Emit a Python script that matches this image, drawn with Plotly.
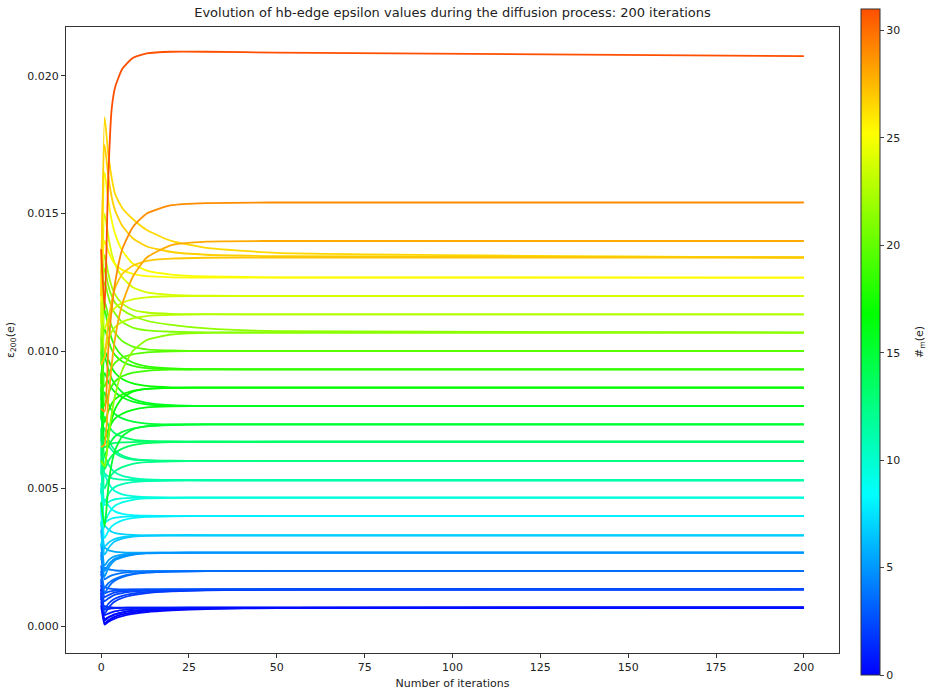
import plotly.graph_objects as go
from plotly.colors import sample_colorscale

# ---------------- data ----------------
ITERATIONS = [0, 1, 2, 3, 4, 6, 9, 13, 20, 30, 50, 200]

# each edge: #m(e) value and epsilon value at the sampled iterations
M_VALUES = [
    0.0, 0.3, 0.6, 1.0, 0.8, 0.2, 0.4,
    2.0, 2.3, 2.6, 2.2, 1.8, 2.5,
    3.5, 3.8, 4.0, 3.6,
    5.0, 5.3, 5.6, 4.8,
    6.5, 7.0, 6.8,
    8.0, 8.3, 7.8,
    9.3, 9.7, 9.5,
    11.0, 10.8, 11.2,
    12.0, 12.3, 12.5,
    13.5, 13.8, 13.3,
    15.0, 14.7, 15.2,
    16.0, 16.3, 15.8,
    17.0, 17.3, 16.8,
    18.5, 18.8, 18.3,
    20.0, 19.7,
    21.0, 21.3, 21.5,
    22.5, 22.8,
    24.0, 23.7,
    25.0, 25.3,
    26.5, 26.8, 27.0,
    28.0,
    29.0,
    31.0,
]

EPSILON = [
    # level 0.00067
    [0.00120, 0.00010, 0.00020, 0.00028, 0.00034, 0.00042, 0.00050, 0.00056, 0.00061, 0.00064, 0.00066, 0.00067],
    [0.00090, 0.00025, 0.00032, 0.00038, 0.00043, 0.00050, 0.00056, 0.00060, 0.00063, 0.00065, 0.00066, 0.00067],
    [0.00150, 0.00040, 0.00045, 0.00050, 0.00054, 0.00058, 0.00062, 0.00064, 0.00066, 0.00067, 0.00067, 0.00067],
    [0.00060, 0.00072, 0.00069, 0.00068, 0.00067, 0.00067, 0.00067, 0.00067, 0.00067, 0.00067, 0.00067, 0.00067],
    [0.00100, 0.00060, 0.00062, 0.00064, 0.00065, 0.00066, 0.00067, 0.00067, 0.00067, 0.00067, 0.00067, 0.00067],
    [0.00075, 0.00005, 0.00015, 0.00022, 0.00028, 0.00036, 0.00044, 0.00051, 0.00057, 0.00062, 0.00065, 0.00067],
    [0.00135, 0.00020, 0.00030, 0.00036, 0.00042, 0.00049, 0.00055, 0.00059, 0.00062, 0.00065, 0.00066, 0.00067],
    # level 0.00133
    [0.00170, 0.00060, 0.00080, 0.00092, 0.00100, 0.00110, 0.00118, 0.00124, 0.00129, 0.00131, 0.00133, 0.00133],
    [0.00130, 0.00090, 0.00100, 0.00108, 0.00114, 0.00120, 0.00125, 0.00129, 0.00131, 0.00132, 0.00133, 0.00133],
    [0.00095, 0.00140, 0.00137, 0.00135, 0.00134, 0.00133, 0.00133, 0.00133, 0.00133, 0.00133, 0.00133, 0.00133],
    [0.00200, 0.00105, 0.00112, 0.00118, 0.00122, 0.00126, 0.00129, 0.00131, 0.00132, 0.00133, 0.00133, 0.00133],
    [0.00110, 0.00045, 0.00065, 0.00080, 0.00090, 0.00102, 0.00112, 0.00120, 0.00126, 0.00130, 0.00132, 0.00133],
    [0.00160, 0.00120, 0.00124, 0.00127, 0.00129, 0.00131, 0.00132, 0.00133, 0.00133, 0.00133, 0.00133, 0.00133],
    # level 0.0020
    [0.00220, 0.00120, 0.00140, 0.00156, 0.00166, 0.00178, 0.00188, 0.00194, 0.00198, 0.00200, 0.00200, 0.00200],
    [0.00260, 0.00170, 0.00178, 0.00184, 0.00188, 0.00193, 0.00197, 0.00199, 0.00200, 0.00200, 0.00200, 0.00200],
    [0.00165, 0.00212, 0.00207, 0.00204, 0.00202, 0.00201, 0.00200, 0.00200, 0.00200, 0.00200, 0.00200, 0.00200],
    [0.00190, 0.00140, 0.00155, 0.00165, 0.00172, 0.00182, 0.00190, 0.00195, 0.00198, 0.00200, 0.00200, 0.00200],
    # level 0.00267
    [0.00300, 0.00180, 0.00210, 0.00228, 0.00240, 0.00250, 0.00259, 0.00264, 0.00266, 0.00267, 0.00267, 0.00267],
    [0.00350, 0.00220, 0.00238, 0.00248, 0.00254, 0.00260, 0.00264, 0.00266, 0.00267, 0.00267, 0.00267, 0.00267],
    [0.00240, 0.00285, 0.00276, 0.00272, 0.00270, 0.00268, 0.00267, 0.00267, 0.00267, 0.00267, 0.00267, 0.00267],
    [0.00270, 0.00200, 0.00222, 0.00236, 0.00245, 0.00254, 0.00261, 0.00265, 0.00266, 0.00267, 0.00267, 0.00267],
    # level 0.0033
    [0.00380, 0.00260, 0.00282, 0.00298, 0.00308, 0.00318, 0.00325, 0.00329, 0.00330, 0.00330, 0.00330, 0.00330],
    [0.00290, 0.00365, 0.00352, 0.00343, 0.00338, 0.00334, 0.00331, 0.00330, 0.00330, 0.00330, 0.00330, 0.00330],
    [0.00420, 0.00290, 0.00302, 0.00311, 0.00317, 0.00323, 0.00327, 0.00329, 0.00330, 0.00330, 0.00330, 0.00330],
    # level 0.0040
    [0.00450, 0.00320, 0.00344, 0.00362, 0.00372, 0.00384, 0.00392, 0.00397, 0.00399, 0.00400, 0.00400, 0.00400],
    [0.00360, 0.00460, 0.00440, 0.00425, 0.00416, 0.00408, 0.00403, 0.00401, 0.00400, 0.00400, 0.00400, 0.00400],
    [0.00500, 0.00375, 0.00385, 0.00391, 0.00394, 0.00397, 0.00399, 0.00400, 0.00400, 0.00400, 0.00400, 0.00400],
    # level 0.00467
    [0.00520, 0.00380, 0.00405, 0.00425, 0.00438, 0.00450, 0.00459, 0.00464, 0.00466, 0.00467, 0.00467, 0.00467],
    [0.00420, 0.00550, 0.00522, 0.00502, 0.00490, 0.00479, 0.00472, 0.00469, 0.00467, 0.00467, 0.00467, 0.00467],
    [0.00580, 0.00440, 0.00450, 0.00457, 0.00461, 0.00464, 0.00466, 0.00467, 0.00467, 0.00467, 0.00467, 0.00467],
    # level 0.0053
    [0.00480, 0.00620, 0.00590, 0.00570, 0.00558, 0.00546, 0.00538, 0.00533, 0.00531, 0.00530, 0.00530, 0.00530],
    [0.00600, 0.00450, 0.00478, 0.00496, 0.00506, 0.00516, 0.00523, 0.00527, 0.00529, 0.00530, 0.00530, 0.00530],
    [0.00650, 0.00555, 0.00545, 0.00538, 0.00535, 0.00532, 0.00531, 0.00530, 0.00530, 0.00530, 0.00530, 0.00530],
    # level 0.0060
    [0.00550, 0.00680, 0.00658, 0.00640, 0.00628, 0.00614, 0.00605, 0.00602, 0.00600, 0.00600, 0.00600, 0.00600],
    [0.00680, 0.00500, 0.00530, 0.00550, 0.00564, 0.00578, 0.00590, 0.00596, 0.00599, 0.00600, 0.00600, 0.00600],
    [0.00620, 0.00720, 0.00680, 0.00655, 0.00638, 0.00620, 0.00608, 0.00603, 0.00601, 0.00600, 0.00600, 0.00600],
    # level 0.0067
    [0.00600, 0.00760, 0.00732, 0.00712, 0.00700, 0.00688, 0.00678, 0.00673, 0.00671, 0.00670, 0.00670, 0.00670],
    [0.00720, 0.00570, 0.00598, 0.00618, 0.00630, 0.00645, 0.00658, 0.00665, 0.00669, 0.00670, 0.00670, 0.00670],
    [0.00780, 0.00650, 0.00658, 0.00663, 0.00666, 0.00668, 0.00669, 0.00670, 0.00670, 0.00670, 0.00670, 0.00670],
    # level 0.0073
    [0.00680, 0.00850, 0.00810, 0.00785, 0.00770, 0.00755, 0.00743, 0.00736, 0.00733, 0.00733, 0.00733, 0.00733],
    [0.00800, 0.00620, 0.00652, 0.00675, 0.00690, 0.00706, 0.00718, 0.00726, 0.00731, 0.00733, 0.00733, 0.00733],
    [0.00450, 0.00360, 0.00500, 0.00590, 0.00640, 0.00690, 0.00715, 0.00727, 0.00732, 0.00733, 0.00733, 0.00733],
    # level 0.0080
    [0.00750, 0.00920, 0.00890, 0.00865, 0.00850, 0.00832, 0.00816, 0.00806, 0.00801, 0.00800, 0.00800, 0.00800],
    [0.00870, 0.00680, 0.00712, 0.00738, 0.00755, 0.00772, 0.00786, 0.00795, 0.00799, 0.00800, 0.00800, 0.00800],
    [0.00820, 0.00980, 0.00935, 0.00900, 0.00878, 0.00850, 0.00826, 0.00811, 0.00803, 0.00800, 0.00800, 0.00800],
    # level 0.0087
    [0.00800, 0.01000, 0.00970, 0.00940, 0.00920, 0.00898, 0.00882, 0.00873, 0.00868, 0.00867, 0.00867, 0.00867],
    [0.00920, 0.00740, 0.00780, 0.00808, 0.00825, 0.00842, 0.00855, 0.00862, 0.00866, 0.00867, 0.00867, 0.00867],
    [0.00600, 0.00580, 0.00680, 0.00750, 0.00790, 0.00830, 0.00852, 0.00862, 0.00866, 0.00867, 0.00867, 0.00867],
    # level 0.0093
    [0.00880, 0.01080, 0.01040, 0.01005, 0.00985, 0.00962, 0.00946, 0.00938, 0.00934, 0.00933, 0.00933, 0.00933],
    [0.01000, 0.00800, 0.00842, 0.00872, 0.00890, 0.00908, 0.00921, 0.00928, 0.00932, 0.00933, 0.00933, 0.00933],
    [0.00850, 0.01150, 0.01090, 0.01045, 0.01015, 0.00982, 0.00958, 0.00944, 0.00937, 0.00934, 0.00933, 0.00933],
    # level 0.0100
    [0.00950, 0.01180, 0.01130, 0.01090, 0.01065, 0.01036, 0.01016, 0.01006, 0.01002, 0.01000, 0.01000, 0.01000],
    [0.01050, 0.00870, 0.00910, 0.00940, 0.00958, 0.00976, 0.00988, 0.00995, 0.00999, 0.01000, 0.01000, 0.01000],
    # level 0.0107
    [0.01000, 0.01250, 0.01200, 0.01160, 0.01135, 0.01105, 0.01085, 0.01075, 0.01070, 0.01068, 0.01067, 0.01067],
    [0.00600, 0.00580, 0.00680, 0.00770, 0.00840, 0.00930, 0.01000, 0.01040, 0.01060, 0.01066, 0.01067, 0.01067],
    [0.01120, 0.01300, 0.01240, 0.01200, 0.01175, 0.01150, 0.01128, 0.01110, 0.01095, 0.01082, 0.01072, 0.01067],
    # level 0.0113
    [0.01050, 0.01350, 0.01285, 0.01235, 0.01205, 0.01172, 0.01150, 0.01140, 0.01135, 0.01134, 0.01133, 0.01133],
    [0.01180, 0.01000, 0.01040, 0.01070, 0.01088, 0.01106, 0.01119, 0.01127, 0.01131, 0.01133, 0.01133, 0.01133],
    # level 0.0120
    [0.01100, 0.01500, 0.01420, 0.01355, 0.01315, 0.01268, 0.01232, 0.01213, 0.01204, 0.01201, 0.01200, 0.01200],
    [0.01250, 0.01080, 0.01118, 0.01142, 0.01158, 0.01175, 0.01188, 0.01195, 0.01199, 0.01200, 0.01200, 0.01200],
    # level 0.0127
    [0.01180, 0.01650, 0.01550, 0.01475, 0.01425, 0.01365, 0.01318, 0.01292, 0.01278, 0.01271, 0.01268, 0.01267],
    [0.01250, 0.01400, 0.01365, 0.01335, 0.01315, 0.01295, 0.01280, 0.01272, 0.01268, 0.01267, 0.01267, 0.01267],
    # level 0.0134
    [0.01200, 0.01850, 0.01720, 0.01630, 0.01570, 0.01520, 0.01480, 0.01440, 0.01400, 0.01375, 0.01357, 0.01340],
    [0.01280, 0.01750, 0.01640, 0.01560, 0.01510, 0.01455, 0.01410, 0.01380, 0.01360, 0.01350, 0.01345, 0.01340],
    [0.00950, 0.00980, 0.01100, 0.01180, 0.01230, 0.01280, 0.01310, 0.01328, 0.01336, 0.01339, 0.01340, 0.01340],
    # level 0.0140
    [0.00650, 0.00660, 0.00820, 0.00950, 0.01050, 0.01170, 0.01270, 0.01340, 0.01385, 0.01398, 0.01400, 0.01400],
    # level 0.0154
    [0.00790, 0.00780, 0.01000, 0.01150, 0.01250, 0.01370, 0.01450, 0.01500, 0.01530, 0.01538, 0.01540, 0.01540],
    # level 0.0207
    [0.01370, 0.01150, 0.01620, 0.01880, 0.01960, 0.02025, 0.02065, 0.02082, 0.02088, 0.02088, 0.02085, 0.02072],
]

M_MIN, M_MAX = 0, 31
CB_TICKS = [0, 5, 10, 15, 20, 25, 30]

# ---------------- style ----------------
COLORSCALE = [
    [0.0, "rgb(0,0,255)"],
    [0.271, "rgb(0,255,255)"],
    [0.542, "rgb(0,255,0)"],
    [0.813, "rgb(255,255,0)"],
    [1.0, "rgb(255,79,0)"],
]
FONT = "DejaVu Sans"
L, R, T, B = 65.5, 94, 27, 40
W, H = 933, 693
PW, PH = W - L - R, H - T - B

fig = go.Figure()
for m, eps in zip(M_VALUES, EPSILON):
    col = sample_colorscale(COLORSCALE, [(m - M_MIN) / (M_MAX - M_MIN)])[0]
    fig.add_trace(go.Scatter(
        x=ITERATIONS, y=eps, mode="lines",
        line=dict(color=col, width=1.8, shape="spline", smoothing=0.5),
        showlegend=False, hoverinfo="skip",
    ))

# colorbar carrier
fig.add_trace(go.Scatter(
    x=[ITERATIONS[-1]], y=[EPSILON[0][-1]], mode="markers",
    marker=dict(size=0.1, color=[M_MIN], cmin=M_MIN, cmax=M_MAX,
                colorscale=COLORSCALE, showscale=True,
                colorbar=dict(
                    thickness=19, thicknessmode="pixels",
                    len=666, lenmode="pixels",
                    x=(861 - L) / PW, xanchor="left", xpad=0,
                    y=(H - B - 342) / PH, yanchor="middle", ypad=0,
                    outlinewidth=1, outlinecolor="#333",
                    tickvals=CB_TICKS, ticks="outside", ticklen=4,
                    tickfont=dict(family=FONT, size=11, color="#222"),
                )),
    showlegend=False, hoverinfo="skip",
))

fig.update_layout(
    width=W, height=H,
    margin=dict(l=L, r=R, t=T, b=B, autoexpand=False),
    paper_bgcolor="white", plot_bgcolor="white",
    font=dict(family=FONT, size=11, color="#222"),
    title=dict(text="Evolution of hb-edge epsilon values during the diffusion process: 200 iterations",
               x=0.5, xref="paper", xanchor="center",
               y=1 - 12 / H, yref="container", yanchor="middle",
               font=dict(family=FONT, size=13, color="#222")),
    annotations=[dict(
        text="#<sub>m</sub>(e)", textangle=-90, showarrow=False,
        xref="paper", yref="paper", x=(920 - L) / PW, y=(H - B - 342) / PH,
        xanchor="center", yanchor="middle",
        font=dict(family=FONT, size=11, color="#222"),
    )],
)
fig.update_xaxes(
    range=[-10, 210], tickvals=[0, 25, 50, 75, 100, 125, 150, 175, 200],
    showgrid=False, zeroline=False, automargin=False,
    showline=True, linecolor="#333", linewidth=1, mirror=True,
    ticks="outside", ticklen=4, tickcolor="#333",
    title=dict(text="Number of iterations", standoff=6,
               font=dict(family=FONT, size=11, color="#222")),
)
fig.update_yaxes(
    range=[-0.00098, 0.02178], tickvals=[0, 0.005, 0.01, 0.015, 0.02], tickformat=".3f",
    showgrid=False, zeroline=False, automargin=False,
    showline=True, linecolor="#333", linewidth=1, mirror=True,
    ticks="outside", ticklen=4, tickcolor="#333",
    title=dict(text="ε<sub>200</sub>(e)", standoff=10,
               font=dict(family=FONT, size=11, color="#222")),
)

fig.write_html("out.html", config={"displayModeBar": False},
               post_script="document.body.style.margin='0';document.body.style.overflow='hidden';")
